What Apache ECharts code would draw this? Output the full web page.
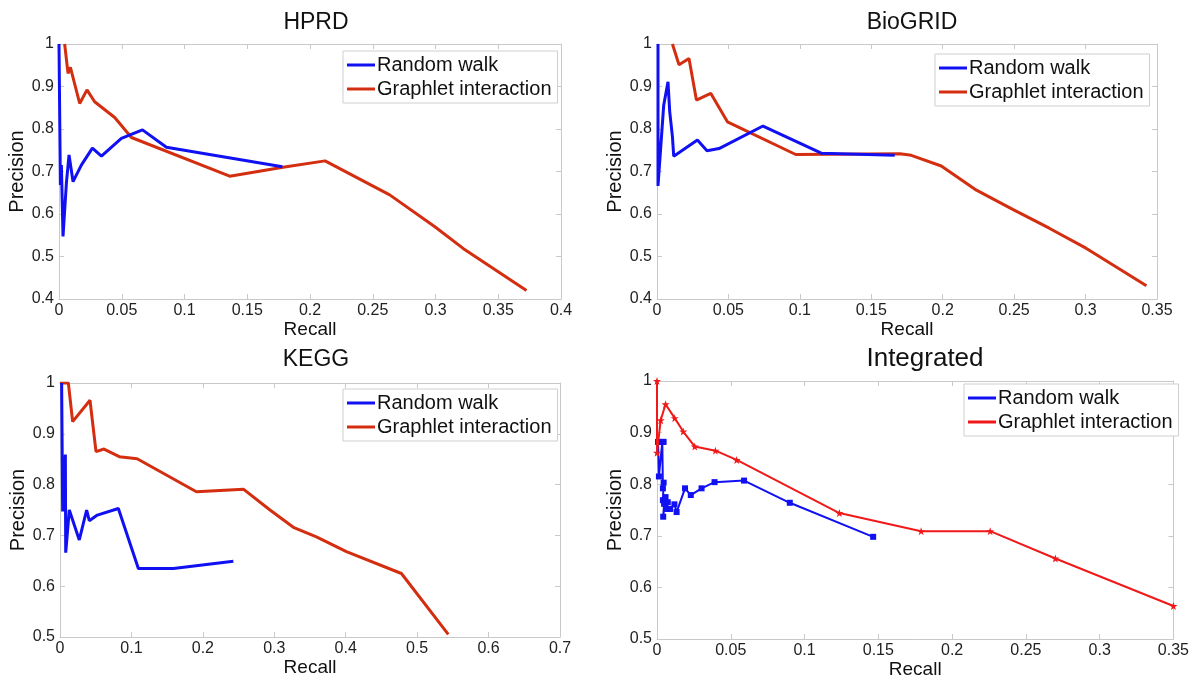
<!DOCTYPE html>
<html><head><meta charset="utf-8">
<script src="https://cdn.jsdelivr.net/npm/echarts@6/dist/echarts.min.js"></script>
<style>html,body{margin:0;padding:0;background:#fff}#c{width:1192px;height:682px}</style>
</head><body><div id="c"></div>
<script>
const panelTitles = ['HPRD', 'BioGRID', 'KEGG', 'Integrated'];
const seriesNames = ['Random walk', 'Graphlet interaction'];

const hprdRandomWalk = [[0,1.0],[0.0011,0.668],[0.0019,0.715],[0.0032,0.547],[0.0059,0.673],[0.008,0.739],[0.0093,0.739],[0.0112,0.676],[0.0178,0.715],[0.019,0.715],[0.0266,0.755],[0.0338,0.736],[0.0497,0.778],[0.0665,0.798],[0.0856,0.757],[0.178,0.711]];
const hprdGraphlet = [[0.0045,1.0],[0.0072,0.931],[0.0091,0.945],[0.0165,0.860],[0.0223,0.892],[0.0284,0.864],[0.0444,0.827],[0.0577,0.780],[0.136,0.689],[0.1785,0.710],[0.212,0.725],[0.2635,0.645],[0.2995,0.570],[0.322,0.519],[0.3725,0.420]];

const bioRandomWalk = [[0.0007,1.0],[0.0007,0.666],[0.0047,0.856],[0.0077,0.911],[0.0089,0.841],[0.0108,0.782],[0.0117,0.736],[0.0283,0.774],[0.035,0.749],[0.0434,0.754],[0.0742,0.807],[0.115,0.743],[0.1664,0.738]];
const bioGraphlet = [[0.0108,1.0],[0.0154,0.951],[0.0224,0.966],[0.0276,0.868],[0.0376,0.884],[0.0493,0.817],[0.0971,0.740],[0.170,0.742],[0.178,0.738],[0.199,0.713],[0.2236,0.656],[0.249,0.611],[0.2749,0.566],[0.3006,0.519],[0.3426,0.431]];

const keggRandomWalk = [[0.0023,1.0],[0.0037,0.747],[0.0075,0.859],[0.008,0.666],[0.013,0.75],[0.027,0.691],[0.0373,0.75],[0.041,0.729],[0.0523,0.74],[0.0817,0.753],[0.1097,0.635],[0.1587,0.635],[0.2427,0.649]];
const keggGraphlet = [[0,1.0],[0.0117,1.0],[0.0177,0.924],[0.042,0.966],[0.0504,0.865],[0.0616,0.870],[0.083,0.855],[0.108,0.851],[0.191,0.786],[0.2567,0.791],[0.294,0.75],[0.3267,0.716],[0.359,0.697],[0.401,0.668],[0.478,0.625],[0.5436,0.505]];

const intRandomWalk = [[0.0007,0.882],[0.0013,0.815],[0.0036,0.882],[0.0045,0.882],[0.004,0.792],[0.0045,0.803],[0.004,0.769],[0.0058,0.775],[0.0042,0.737],[0.0048,0.762],[0.0073,0.765],[0.0067,0.752],[0.0089,0.752],[0.0118,0.761],[0.0133,0.746],[0.019,0.792],[0.0229,0.779],[0.0302,0.792],[0.039,0.804],[0.059,0.807],[0.09,0.764],[0.1465,0.698]];
const intGraphlet = [[0,1.0],[0,0.861],[0.0025,0.924],[0.0058,0.955],[0.012,0.928],[0.0178,0.902],[0.0256,0.873],[0.0396,0.865],[0.054,0.847],[0.1236,0.744],[0.179,0.709],[0.2258,0.709],[0.27,0.656],[0.35,0.564]];

const xMax = [0.4, 0.35, 0.7, 0.35];
const xStep = [0.05, 0.05, 0.1, 0.05];
const yMin = [0.4, 0.4, 0.5, 0.5];

const grids = [
  {left: 59, top: 44, width: 502, height: 255},
  {left: 657, top: 44, width: 500, height: 255},
  {left: 60, top: 383, width: 500, height: 254},
  {left: 657, top: 381, width: 525, height: 258}
];
const titlePos = [[311, 6, 23], [907, 6, 23], [311, 343, 23], [920, 341, 26]];
const legendPos = [[343, 51], [935, 54], [343, 389], [964, 384]];

const FONT = 'Liberation Sans, Arial, sans-serif';
const AX = '#c9c9c9';
const BLUE = '#1010f2';
const RED = '#d42e10';
const RED2 = '#f01818';
const STAR = 'path://M0,-10L2.35,-3.24L9.51,-3.09L3.8,1.24L5.88,8.09L0,4L-5.88,8.09L-3.8,1.24L-9.51,-3.09L-2.35,-3.24Z';

const xAxes = [], yAxes = [];
for (let i = 0; i < 4; i++) {
  xAxes.push({
    type: 'value', gridIndex: i, min: 0, max: xMax[i], interval: xStep[i],
    name: 'Recall', nameLocation: 'middle', nameGap: 20,
    nameTextStyle: {fontFamily: FONT, fontSize: 19, color: '#111'},
    axisLine: {show: true, lineStyle: {color: AX}},
    axisTick: {show: true, inside: true, length: 5, lineStyle: {color: AX}},
    axisLabel: {fontFamily: FONT, fontSize: 16, color: '#222', margin: 4},
    splitLine: {show: false}
  });
  yAxes.push({
    type: 'value', gridIndex: i, min: yMin[i], max: 1, interval: 0.1,
    name: 'Precision', nameLocation: 'middle', nameGap: 28,
    nameTextStyle: {fontFamily: FONT, fontSize: 20, color: '#111'},
    axisLine: {show: true, lineStyle: {color: AX}},
    axisTick: {show: true, inside: true, length: 5, lineStyle: {color: AX}},
    axisLabel: {fontFamily: FONT, fontSize: 16, color: '#222', margin: 5},
    splitLine: {show: false}
  });
}
for (let i = 0; i < 4; i++) {
  xAxes.push({
    type: 'value', gridIndex: i, position: 'top', min: 0, max: xMax[i], interval: xStep[i],
    axisLine: {show: true, onZero: false, lineStyle: {color: AX}},
    axisTick: {show: true, inside: true, length: 5, lineStyle: {color: AX}},
    axisLabel: {show: false}, splitLine: {show: false}
  });
  yAxes.push({
    type: 'value', gridIndex: i, position: 'right', min: yMin[i], max: 1, interval: 0.1,
    axisLine: {show: true, onZero: false, lineStyle: {color: AX}},
    axisTick: {show: true, inside: true, length: 5, lineStyle: {color: AX}},
    axisLabel: {show: false}, splitLine: {show: false}
  });
}

const data = [
  [hprdRandomWalk, hprdGraphlet],
  [bioRandomWalk, bioGraphlet],
  [keggRandomWalk, keggGraphlet],
  [intRandomWalk, intGraphlet]
];
const series = [];
for (let i = 0; i < 4; i++) {
  const integ = i === 3;
  series.push({
    type: 'line', name: seriesNames[0], xAxisIndex: i, yAxisIndex: i,
    data: data[i][0], animation: false, z: 3,
    symbol: integ ? 'rect' : 'none', symbolSize: 6, showSymbol: integ,
    itemStyle: {color: BLUE},
    lineStyle: {color: BLUE, width: integ ? 2 : 3}
  });
  series.push({
    type: 'line', name: seriesNames[1], xAxisIndex: i, yAxisIndex: i,
    data: data[i][1], animation: false, z: integ ? 4 : 2,
    symbol: integ ? STAR : 'none', symbolSize: 8, showSymbol: integ,
    itemStyle: {color: integ ? RED2 : RED},
    lineStyle: {color: integ ? RED2 : RED, width: integ ? 2 : 3}
  });
}

const titles = panelTitles.map((t, i) => ({
  text: t, left: titlePos[i][0], top: titlePos[i][1], textAlign: 'center',
  textStyle: {fontFamily: FONT, fontSize: titlePos[i][2], fontWeight: 'normal', color: '#111'}
}));

const legends = legendPos.map((p, i) => ({
  data: seriesNames.map(n => ({name: n, itemStyle: {color: n === seriesNames[0] ? BLUE : (i === 3 ? RED2 : RED)}})),
  orient: 'vertical', left: p[0], top: p[1],
  icon: 'rect', itemWidth: 28, itemHeight: 3, itemGap: 4,
  padding: [4, 6, 4, 4], borderColor: '#cfcfcf', borderWidth: 1, backgroundColor: '#fff',
  textStyle: {fontFamily: FONT, fontSize: 20, color: '#111', padding: [0, 0, 0, -3]},
  selectedMode: false
}));

const chart = echarts.init(document.getElementById('c'), null, {renderer: 'canvas'});
chart.setOption({
  backgroundColor: '#fff',
  animation: false,
  title: titles,
  legend: legends,
  grid: grids,
  xAxis: xAxes,
  yAxis: yAxes,
  series: series
});
</script></body></html>
